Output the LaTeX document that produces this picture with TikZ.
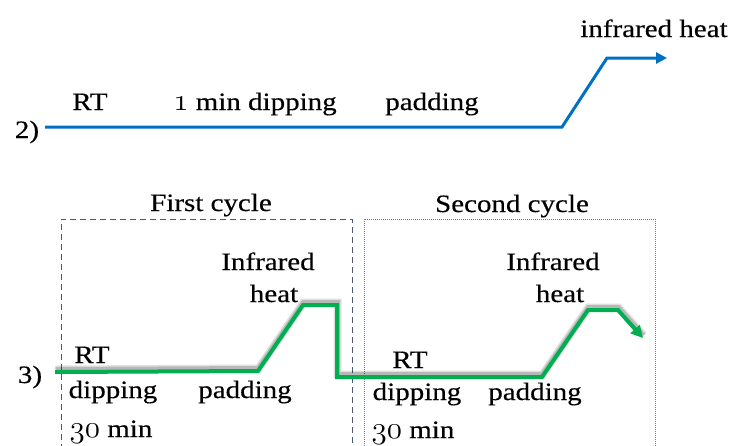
\documentclass[tikz,border=0pt]{standalone}
\usepackage{fontspec}
\setmainfont[FakeStretch=1.16]{Liberation Serif}
\newfontfamily\lblfont[FakeStretch=1.16,FakeBold=0.35]{Liberation Serif}
\usetikzlibrary{arrows.meta}
\newcommand\osnum[1]{\scalebox{1.25}{\usefont{OML}{cmm}{m}{it}#1}}
\definecolor{cblue}{HTML}{0070C0}
\definecolor{cgreen}{HTML}{00B050}
\definecolor{cbox}{HTML}{4A5878}
\begin{document}
\begin{tikzpicture}[x=1pt,y=-1pt,
  lbl/.style={inner sep=0pt, anchor=base, font=\fontsize{25}{29}\lblfont},
  blueline/.style={draw=cblue, line width=3pt, -{Triangle[length=11pt,width=11pt]}},
  greenline/.style={draw=cgreen, line width=4pt, -{Triangle[length=12pt,width=12pt]}},
  shadowA/.style={draw=black, opacity=0.12, line width=8pt, transform canvas={xshift=0.5pt,yshift=2.5pt}},
  shadowB/.style={draw=black, opacity=0.18, line width=5pt, transform canvas={xshift=0.5pt,yshift=2.5pt}},
  dashbox/.style={draw=cbox, line width=0.9pt, dash pattern=on 6pt off 4pt},
  dotbox/.style={draw=cbox!80, line width=0.8pt, dash pattern=on 1pt off 1pt}]
\useasboundingbox (0,0) rectangle (733,445);

% cycle boxes
\draw[dashbox] (61,460) -- (61,219) -- (352,219) -- (352,460);
\draw[dotbox] (364,460) -- (364,219) -- (655,219) -- (655,460);

% line 2
\coordinate (b0) at (45,127);
\coordinate (b1) at (562,127);
\coordinate (b2) at (607,58);
\coordinate (b3) at (667,58);
\draw[blueline] (b0) -- (b1) -- (b2) -- (b3);

% line 3
\coordinate (g0) at (55,372);
\coordinate (g1) at (258,371);
\coordinate (g2) at (303,305);
\coordinate (g3) at (337,305);
\coordinate (g4) at (337,377);
\coordinate (g5) at (542,377);
\coordinate (g6) at (588,310);
\coordinate (g7) at (618,310);
\coordinate (g8) at (643,338);
\draw[shadowA] (g0) -- (g1) -- (g2) -- (g3) -- (g4) -- (g5) -- (g6) -- (g7) -- (g8);
\draw[shadowB] (g0) -- (g1) -- (g2) -- (g3) -- (g4) -- (g5) -- (g6) -- (g7) -- (g8);
\draw[greenline] (g0) -- (g1) -- (g2) -- (g3) -- (g4) -- (g5) -- (g6) -- (g7) -- (g8);

% labels row 2
\node[lbl] (l2) at (27,138) {2)};
\node[lbl] (rt2) at (90,110) {RT};
\node[lbl] (dip2) at (255,110) {\osnum{1} min dipping};
\node[lbl] (pad2) at (432,110) {padding};
\node[lbl] (ir2) at (654,37) {infrared heat};

% labels row 3
\node[lbl] (l3) at (30,383) {3)};
\node[lbl] (c1) at (211,211) {First cycle};
\node[lbl] (c2) at (512,212) {Second cycle};
\node[lbl] (ira) at (268,270) {Infrared};
\node[lbl] (ha) at (274,302) {heat};
\node[lbl] (rta) at (92,363) {RT};
\node[lbl] (dipa) at (113,398) {dipping};
\node[lbl] (mina) at (111,437) {\osnum{30} min};
\node[lbl] (pada) at (245,398) {padding};
\node[lbl] (irb) at (553,270) {Infrared};
\node[lbl] (hb) at (560,302) {heat};
\node[lbl] (rtb) at (410,368) {RT};
\node[lbl] (dipb) at (417,400) {dipping};
\node[lbl] (minb) at (413,438) {\osnum{30} min};
\node[lbl] (padb) at (535,400) {padding};
\end{tikzpicture}
\end{document}
